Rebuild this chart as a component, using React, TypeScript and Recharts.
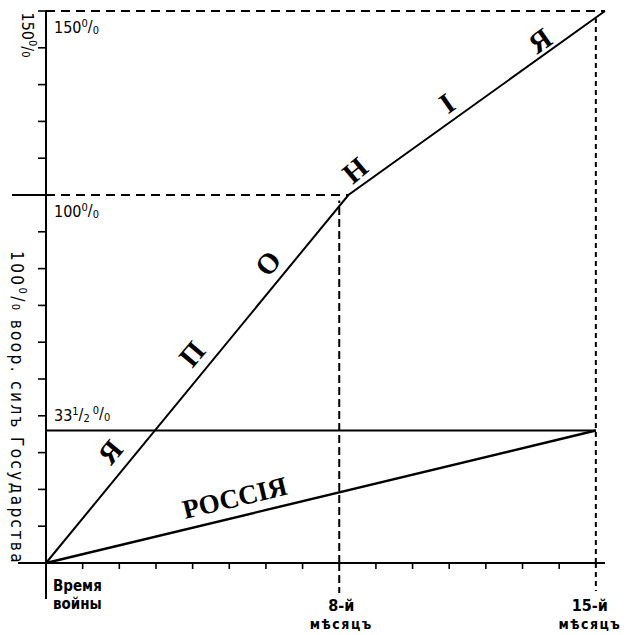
import { ComposedChart, Line, ReferenceLine, Scatter, XAxis, YAxis } from "recharts";

// months of the war along the bottom
const months = [0, 1, 2, 3, 4, 5, 6, 7, 8, 9, 10, 11, 12, 13, 14, 15];
// percent of the armed forces, one tick every 10 %
const percentTicks = [0, 10, 20, 30, 40, 50, 60, 70, 80, 90, 100, 110, 120, 130, 140, 150];

const japan = [
  { month: 0, pct: 0 },
  { month: 8.25, pct: 100 },
  { month: 15.25, pct: 150 },
];

const russia = [
  { month: 0, pct: 0 },
  { month: 15, pct: 36 },
];

// the "33 1/2 %" level, as it is drawn
const thirdLevel = 36;

const japanLetters = [
  { month: 1.75, pct: 30.2, letter: "Я" },
  { month: 3.98, pct: 56.8, letter: "П" },
  { month: 6.05, pct: 81.5, letter: "О" },
  { month: 8.43, pct: 106.8, letter: "Н" },
  { month: 10.94, pct: 125, letter: "І" },
  { month: 13.47, pct: 142, letter: "Я" },
];
const letterAngles = [-50, -50, -50, -40, -35, -35];

const russiaLabel = [{ month: 5.15, pct: 17.7, letter: "РОССІЯ" }];

const levelLabels = [
  { month: 0, pct: 150, label: "150" },
  { month: 0, pct: 100, label: "100" },
  { month: 0, pct: thirdLevel, label: "33" },
];

const monthLabels: Record<number, string[]> = {
  0: ["Время", "войны"],
  8: ["8-й", "мѣсяцъ"],
  15: ["15-й", "мѣсяцъ"],
};

const SANS = "'DejaVu Sans Condensed', 'DejaVu Sans', sans-serif";
const SERIF = "'Liberation Serif', 'DejaVu Serif', serif";

function Percent({ small = 11 }: { small?: number }) {
  return (
    <>
      <tspan dy={-6} fontSize={small}>0</tspan>
      <tspan dy={5}>/</tspan>
      <tspan dy={2} fontSize={small}>0</tspan>
    </>
  );
}

function MonthTick(props: any) {
  const { x, y, payload } = props;
  const v = payload.value as number;
  const lines = monthLabels[v];
  let mark;
  if (v === 0) mark = <line x1={x} x2={x} y1={y} y2={y + 36} stroke="#000" strokeWidth={2} />;
  else if (v === 8) mark = <line x1={x} x2={x} y1={y} y2={y + 30} stroke="#000" strokeWidth={2} strokeDasharray="8 4" />;
  else if (v === 15) mark = <line x1={x} x2={x} y1={y} y2={y + 28} stroke="#000" strokeWidth={2} strokeDasharray="5 4" />;
  else mark = <line x1={x} x2={x} y1={y} y2={y + 6} stroke="#000" strokeWidth={1.6} />;
  return (
    <g>
      {mark}
      {lines && v === 0 && (
        <text x={x + 7} fontFamily={SANS} fontWeight="bold" fontSize={15} fill="#000">
          <tspan x={x + 7} y={y + 28}>{lines[0]}</tspan>
          <tspan x={x + 7} y={y + 46}>{lines[1]}</tspan>
        </text>
      )}
      {lines && v !== 0 && (
        <text textAnchor="middle" fontFamily={SANS} fontWeight="bold" fontSize={16} fill="#000">
          <tspan x={x + (v === 8 ? 2 : -6)} y={y + 48}>{lines[0]}</tspan>
          <tspan x={x + (v === 8 ? 2 : -6)} y={y + 66} fontSize={14} letterSpacing={1.5}>{lines[1]}</tspan>
        </text>
      )}
    </g>
  );
}

function PercentTick(props: any) {
  const { x, y, payload } = props;
  const v = payload.value as number;
  const len = v === 0 ? 28 : v === 100 ? 34 : 8;
  return (
    <g>
      <line x1={x - len} x2={x} y1={y} y2={y} stroke="#000" strokeWidth={v === 0 || v === 100 ? 2 : 1.6} />
      {v === 150 && (
        <text
          x={x - 19}
          y={y + 24}
          transform={`rotate(90, ${x - 19}, ${y + 24})`}
          textAnchor="middle"
          dominantBaseline="central"
          fontFamily={SANS}
          fontSize={16}
          fill="#000"
        >
          150<Percent />
        </text>
      )}
      {v === 0 && (
        <text
          x={x - 29}
          y={y - 155}
          transform={`rotate(90, ${x - 29}, ${y - 155})`}
          textAnchor="middle"
          dominantBaseline="central"
          fontFamily={SANS}
          fontSize={17}
          letterSpacing={2.4}
          fill="#000"
        >
          100<Percent /> <tspan dy={-1}>воор. силъ Государства</tspan>
        </text>
      )}
    </g>
  );
}

function LevelLabel(props: any) {
  const { cx, cy, payload } = props;
  if (payload.label === "33") {
    return (
      <text x={cx + 8} y={cy - 10} fontFamily={SANS} fontSize={16} fill="#000">
        33
        <tspan dy={-6} fontSize={11}>1</tspan>
        <tspan dy={5}>/</tspan>
        <tspan dy={2} fontSize={11}>2</tspan>
        <tspan dx={3} dy={-8} fontSize={11}>0</tspan>
        <tspan dy={5}>/</tspan>
        <tspan dy={2} fontSize={11}>0</tspan>
      </text>
    );
  }
  return (
    <text x={cx + 8} y={cy + 22} fontFamily={SANS} fontSize={16} fill="#000">
      {payload.label}
      <Percent />
    </text>
  );
}

function JapanLetter(props: any) {
  const { cx, cy, payload, index } = props;
  const angle = letterAngles[index] ?? -45;
  return (
    <text
      x={cx}
      y={cy}
      transform={`rotate(${angle}, ${cx}, ${cy})`}
      textAnchor="middle"
      dominantBaseline="central"
      fontFamily={SERIF}
      fontWeight="bold"
      fontSize={29}
      fill="#000"
    >
      {payload.letter}
    </text>
  );
}

function RussiaText(props: any) {
  const { cx, cy, payload } = props;
  return (
    <text
      x={cx}
      y={cy}
      transform={`rotate(-13.5, ${cx}, ${cy})`}
      textAnchor="middle"
      dominantBaseline="central"
      fontFamily={SERIF}
      fontWeight="bold"
      fontSize={27}
      fill="#000"
    >
      {payload.letter}
    </text>
  );
}

export default function App() {
  return (
    <div style={{ position: "absolute", left: 0, top: 0, background: "#fff" }}>
      <ComposedChart width={627} height={635} margin={{ top: 11, right: 22, bottom: 71, left: 45 }}>
        <XAxis
          dataKey="month"
          type="number"
          domain={[0, 15.25]}
          ticks={months}
          interval={0}
          height={1}
          tickSize={0}
          tickMargin={0}
          tickLine={false}
          axisLine={{ stroke: "#000", strokeWidth: 2 }}
          tick={<MonthTick />}
        />
        <YAxis
          dataKey="pct"
          type="number"
          domain={[0, 150]}
          ticks={percentTicks}
          interval={0}
          width={1}
          tickSize={0}
          tickMargin={0}
          tickLine={false}
          axisLine={{ stroke: "#000", strokeWidth: 2 }}
          tick={<PercentTick />}
        />
        <ReferenceLine segment={[{ x: 0, y: 150 }, { x: 15.25, y: 150 }]} stroke="#000" strokeWidth={2} strokeDasharray="9 6" />
        <ReferenceLine segment={[{ x: 0, y: 100 }, { x: 8.25, y: 100 }]} stroke="#000" strokeWidth={2} strokeDasharray="9 6" />
        <ReferenceLine segment={[{ x: 8, y: 0 }, { x: 8, y: 98.5 }]} stroke="#000" strokeWidth={2} strokeDasharray="8 4" />
        <ReferenceLine segment={[{ x: 15, y: 0 }, { x: 15, y: 148 }]} stroke="#000" strokeWidth={2} strokeDasharray="5 4" />
        <ReferenceLine segment={[{ x: 0, y: thirdLevel }, { x: 15, y: thirdLevel }]} stroke="#000" strokeWidth={1.8} />
        <Line data={japan} dataKey="pct" type="linear" stroke="#000" strokeWidth={2} dot={false} isAnimationActive={false} />
        <Line data={russia} dataKey="pct" type="linear" stroke="#000" strokeWidth={2.4} dot={false} isAnimationActive={false} />
        <Scatter data={japanLetters} dataKey="pct" shape={JapanLetter} isAnimationActive={false} />
        <Scatter data={russiaLabel} dataKey="pct" shape={RussiaText} isAnimationActive={false} />
        <Scatter data={levelLabels} dataKey="pct" shape={LevelLabel} isAnimationActive={false} />
      </ComposedChart>
    </div>
  );
}
